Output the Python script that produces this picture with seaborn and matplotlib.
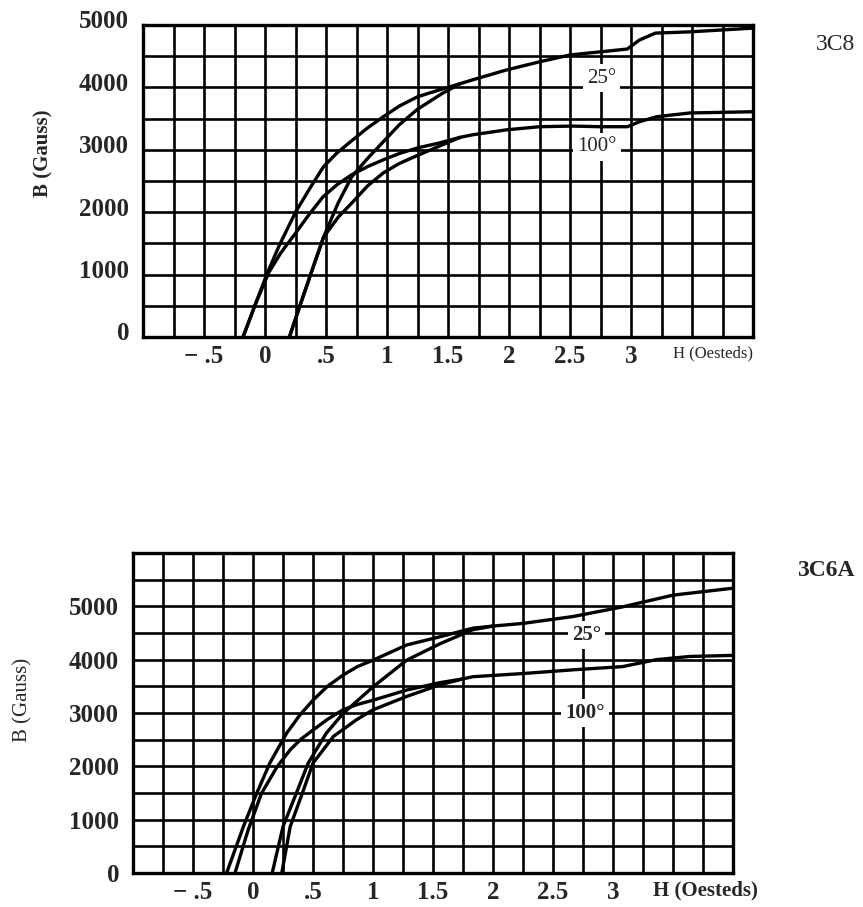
import matplotlib
matplotlib.use("Agg")
import matplotlib.pyplot as plt
import matplotlib.transforms as mtransforms
import numpy as np
import pandas as pd
import seaborn as sns

# ---------------- data ----------------
# Top panel: 3C8
c8_25_desc_H = [-0.18, -0.08, 0.02, 0.12, 0.25, 0.37, 0.48, 0.59, 0.72, 0.84, 0.97, 1.10, 1.25, 1.43, 1.60, 1.70, 1.98, 2.25, 2.50, 2.75, 2.97, 3.07, 3.20, 3.48, 4.00]
c8_25_desc_B = [0, 520, 1030, 1480, 2000, 2390, 2730, 2950, 3160, 3350, 3530, 3700, 3850, 3960, 4060, 4120, 4280, 4410, 4520, 4570, 4615, 4760, 4870, 4890, 4950]
c8_25_asc_H = [0.20, 0.30, 0.40, 0.48, 0.60, 0.71, 0.84, 0.97, 1.10, 1.25, 1.45, 1.60]
c8_25_asc_B = [0, 580, 1150, 1600, 2150, 2565, 2860, 3130, 3400, 3650, 3900, 4060]
c8_100_desc_H = [-0.18, -0.08, 0.03, 0.13, 0.245, 0.36, 0.475, 0.59, 0.71, 0.84, 0.97, 1.10, 1.25, 1.43, 1.60, 1.70, 1.98, 2.25, 2.52, 2.75, 2.97, 3.07, 3.21, 3.48, 4.00]
c8_100_desc_B = [0, 520, 1030, 1350, 1650, 1960, 2245, 2440, 2600, 2730, 2840, 2940, 3030, 3110, 3200, 3240, 3320, 3370, 3380, 3370, 3370, 3450, 3530, 3590, 3610]
c8_100_asc_H = [0.20, 0.30, 0.40, 0.48, 0.60, 0.72, 0.84, 0.97, 1.10, 1.25, 1.43, 1.60]
c8_100_asc_B = [0, 580, 1150, 1600, 1920, 2165, 2420, 2630, 2780, 2910, 3060, 3200]

# Bottom panel: 3C6A
c6_25_desc_H = [-0.22, -0.08, 0.03, 0.14, 0.28, 0.39, 0.50, 0.62, 0.75, 0.87, 1.00, 1.28, 1.56, 1.83, 2.00, 2.25, 2.67, 3.08, 3.50, 4.00]
c6_25_desc_B = [0, 870, 1490, 2060, 2620, 2960, 3240, 3500, 3710, 3870, 3990, 4275, 4430, 4590, 4630, 4680, 4810, 4990, 5210, 5340]
c6_25_asc_H = [0.16, 0.25, 0.36, 0.46, 0.61, 0.75, 1.00, 1.28, 1.56, 1.83, 2.00]
c6_25_asc_B = [0, 870, 1490, 2060, 2620, 2990, 3490, 3990, 4300, 4560, 4630]
c6_100_desc_H = [-0.15, -0.04, 0.07, 0.20, 0.31, 0.40, 0.50, 0.62, 0.75, 0.87, 1.00, 1.28, 1.56, 1.75, 1.83, 2.25, 2.67, 3.08, 3.36, 3.64, 4.00]
c6_100_desc_B = [0, 810, 1490, 1990, 2310, 2510, 2680, 2880, 3060, 3160, 3240, 3430, 3570, 3640, 3680, 3740, 3810, 3870, 4000, 4060, 4080]
c6_100_asc_H = [0.24, 0.31, 0.41, 0.50, 0.67, 0.86, 1.00, 1.28, 1.56, 1.75]
c6_100_asc_B = [0, 870, 1490, 2060, 2560, 2870, 3060, 3310, 3530, 3640]

x_ticks = [-0.5, 0, 0.5, 1, 1.5, 2, 2.5, 3]
x_ticklabels = ["\u2212 .5", "0", ".5", "1", "1.5", "2", "2.5", "3"]
y_ticks = [0, 1000, 2000, 3000, 4000, 5000]
y_ticklabels = ["0", "1000", "2000", "3000", "4000", "5000"]


def make_df(branches):
    rows = []
    for name, H, B in branches:
        for h, b in zip(H, B):
            rows.append((name, h, b))
    return pd.DataFrame(rows, columns=["branch", "H", "B"])


df_c8 = make_df([
    ("25 desc", c8_25_desc_H, c8_25_desc_B),
    ("25 asc", c8_25_asc_H, c8_25_asc_B),
    ("100 desc", c8_100_desc_H, c8_100_desc_B),
    ("100 asc", c8_100_asc_H, c8_100_asc_B),
])
df_c6 = make_df([
    ("25 desc", c6_25_desc_H, c6_25_desc_B),
    ("25 asc", c6_25_asc_H, c6_25_asc_B),
    ("100 desc", c6_100_desc_H, c6_100_desc_B),
    ("100 asc", c6_100_asc_H, c6_100_asc_B),
])

sns.set_style("white")
plt.rcParams["font.family"] = ["Liberation Serif", "DejaVu Serif"]

W, Hpx = 863, 907
fig = plt.figure(figsize=(W / 100, Hpx / 100), dpi=100)
fig.patch.set_facecolor("white")
ax1 = fig.add_axes([143 / W, 1 - 337 / Hpx, 610 / W, 312 / Hpx])
ax2 = fig.add_axes([133 / W, 1 - 873 / Hpx, 600 / W, 320 / Hpx])


def style_axis(ax, df, ymax, ylabel_shift):
    sns.lineplot(data=df, x="H", y="B", units="branch", estimator=None, sort=False,
                 color="black", lw=2.4, ax=ax, legend=False, zorder=3)
    for ln in ax.get_lines():
        ln.set_solid_joinstyle("round")
        ln.set_solid_capstyle("round")
    ax.set_xlim(-1, 4)
    ax.set_ylim(0, ymax)
    ax.set_xticks(x_ticks)
    ax.set_xticklabels(x_ticklabels, fontsize=18, fontweight="bold")
    ax.set_xticks(np.arange(-1, 4.001, 0.25), minor=True)
    ax.set_yticks(y_ticks)
    ax.set_yticklabels(y_ticklabels, fontsize=18, fontweight="bold")
    ax.set_yticks(np.arange(0, ymax + 1, 500), minor=True)
    ax.grid(True, which="both", color="black", lw=1.9)
    ax.set_axisbelow(True)
    ax.tick_params(axis="x", which="both", length=0, pad=6)
    ax.tick_params(axis="y", which="major", length=4, width=1.8, color="black", pad=6, direction="out")
    ax.tick_params(axis="y", which="minor", length=0)
    ax.set_xlabel("")
    ax.set_ylabel("")
    for s in ax.spines.values():
        s.set_color("black")
        s.set_linewidth(2.4)
    if ylabel_shift:
        off = mtransforms.ScaledTranslation(0, ylabel_shift / 72, fig.dpi_scale_trans)
        for lab in ax.get_yticklabels():
            lab.set_transform(lab.get_transform() + off)


style_axis(ax1, df_c8, 5000, 4)
style_axis(ax2, df_c6, 6000, 0)

box = dict(facecolor="white", edgecolor="none", pad=3)
ax1.text(2.76, 4150, "25°", ha="center", va="center", fontsize=15, bbox=box, zorder=5)
ax1.text(2.72, 3045, "100°", ha="center", va="center", fontsize=15, bbox=box, zorder=5)
ax2.text(2.78, 4460, "25°", ha="center", va="center", fontsize=15, fontweight="bold", bbox=box, zorder=5)
ax2.text(2.77, 3000, "100°", ha="center", va="center", fontsize=15, fontweight="bold", bbox=box, zorder=5)

# panel labels / axis titles
fig.text(713 / W, 1 - 353 / Hpx, "H (Oesteds)", ha="center", va="center", fontsize=12)
fig.text(705 / W, 1 - 890 / Hpx, "H (Oesteds)", ha="center", va="center", fontsize=15, fontweight="bold")
fig.text(43 / W, 1 - 153 / Hpx, "B (Gauss)", ha="center", va="center", rotation=90, fontsize=15, fontweight="bold")
fig.text(23 / W, 1 - 700 / Hpx, "B (Gauss)", ha="center", va="center", rotation=90, fontsize=15)
fig.text(835 / W, 1 - 45 / Hpx, "3C8", ha="center", va="center", fontsize=17)
fig.text(826 / W, 1 - 570 / Hpx, "3C6A", ha="center", va="center", fontsize=17, fontweight="bold")

fig.savefig("out.png", dpi=100, facecolor="white")
